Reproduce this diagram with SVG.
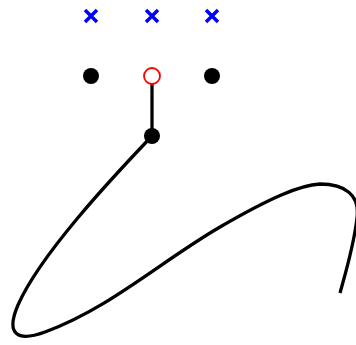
<svg xmlns="http://www.w3.org/2000/svg" width="356" height="345" viewBox="0 0 356 345">
<style>
.x{stroke:#0000ff;stroke-width:3.5;fill:none}
.dot{fill:#000}
.ln{stroke:#000;stroke-width:3.3;fill:none}
</style>
<rect width="356" height="345" fill="#fff"/>
<g id="connectors">
<path class="ln" d="M152,76 L152,136"/>
<path class="ln" d="M152,136 C110,180 40,255 18,305 C5,335 18,342 45,332 C110,308 160,262 220,227 C270,198 300,185 320,184 C345,184 360,195 357,218 C354,245 345,275 340,293"/>
</g>
<g id="cross1"><path class="x" d="M85,10 L97,22 M97,10 L85,22"/></g>
<g id="cross2"><path class="x" d="M146,10 L158,22 M158,10 L146,22"/></g>
<g id="cross3"><path class="x" d="M206,10 L218,22 M218,10 L206,22"/></g>
<g id="dot1"><circle class="dot" cx="91" cy="76" r="8"/></g>
<g id="dot2"><circle cx="152" cy="76" r="8" fill="#fff" stroke="#ff0000" stroke-width="1.8"/></g>
<g id="dot3"><circle class="dot" cx="212" cy="76" r="8"/></g>
<g id="dot4"><circle class="dot" cx="152" cy="136" r="8"/></g>
</svg>
